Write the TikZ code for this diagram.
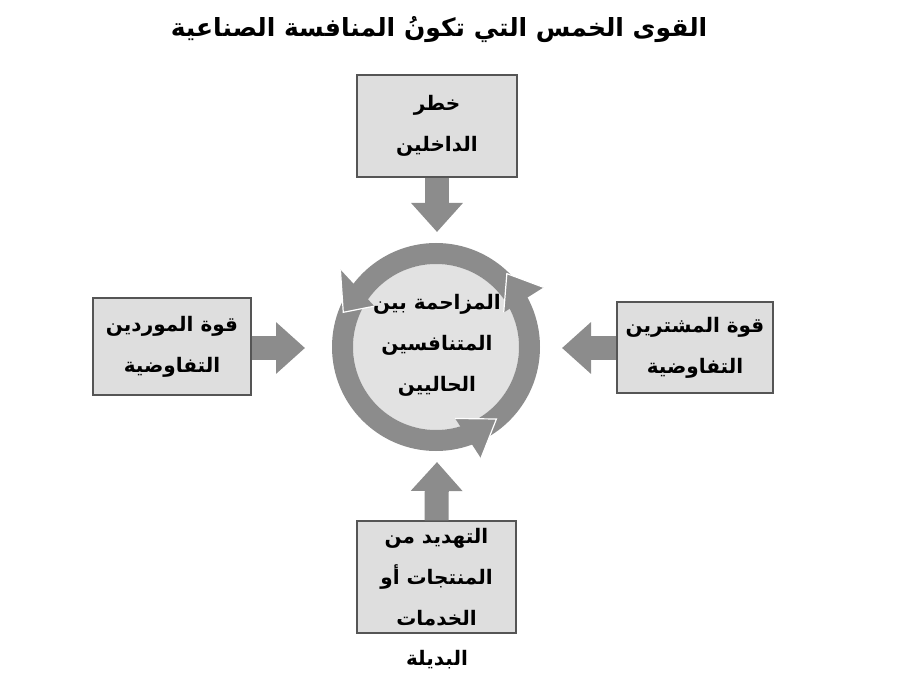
\documentclass[tikz,border=0pt]{standalone}
\usepackage{fontspec}
\usetikzlibrary{arrows.meta,calc}
\TeXXeTstate=1
\newfontfamily\arabicfont[Script=Arabic]{DejaVu Sans}
\newcommand{\ar}[1]{{\arabicfont\bfseries\beginR #1\endR}}
\definecolor{boxgray}{HTML}{DEDEDE}
\definecolor{edgegray}{HTML}{555555}
\definecolor{arrowgray}{HTML}{8C8C8C}
\definecolor{discgray}{HTML}{E2E2E2}
\tikzset{
  forcebox/.style={draw=edgegray, fill=boxgray, line width=1.3pt, inner sep=0pt, align=center,
    font=\fontsize{20}{41}\selectfont},
  plaintext/.style={inner sep=0pt, align=center, font=\fontsize{20}{41}\selectfont},
  fatarrow/.style={draw=arrowgray, line width=24pt, -{Triangle[length=29pt,width=50pt]}},
  headfill/.style={fill=arrowgray},
  headedge/.style={draw=white, line width=1.2pt}
}
\begin{document}
\begin{tikzpicture}[x=1pt,y=1pt]
\useasboundingbox (0,0) rectangle (916,673);
% title
\node[inner sep=0pt, font=\fontsize{25}{30}\selectfont] (title) at (439,643) {\ar{القوى الخمس التي تكونُ المنافسة الصناعية}};
% boxes
\node[forcebox, minimum width=160pt, minimum height=102pt] (top) at (437,547) {\ar{خطر}\\\ar{الداخلين}};
\node[forcebox, minimum width=158pt, minimum height=97pt] (left) at (172,326.5) {\ar{قوة الموردين}\\\ar{التفاوضية}};
\node[forcebox, minimum width=156pt, minimum height=91pt] (right) at (695,325.5) {\ar{قوة المشترين}\\\ar{التفاوضية}};
\node[forcebox, minimum width=159pt, minimum height=112pt] (bottom) at (436.5,96) {\ar{التهديد من}\\\ar{المنتجات أو}\\\ar{الخدمات}};
\node[plaintext] (bottomlast) at (437,13) {\ar{البديلة}};
% arrow tips
\coordinate (ttip) at (437,441);
\coordinate (ltip) at (305,325);
\coordinate (rtip) at (562,325);
\coordinate (btip) at (437,211);
\draw[fatarrow] (top.south) -- (ttip);
\draw[fatarrow] (left.east |- ltip) -- (ltip);
\draw[fatarrow] (right.west |- rtip) -- (rtip);
\draw[fatarrow] (bottom.north) -- (btip);
% central cycle
\coordinate (C) at (436,326);
\fill[discgray] (C) circle (83pt);
\fill[arrowgray, even odd rule] (C) circle (104pt) (C) circle (83pt);
% head A (top right)
\fill[headfill] ($(C)+(29:123pt)$) coordinate (Ao) -- ($(C)+(46:102pt)$) coordinate (At) -- ($(C)+(27:76pt)$) coordinate (Ai) -- cycle;
\draw[headedge] (Ao) -- (At) -- (Ai);
% head B (left)
\fill[headfill] ($(C)+(141:123pt)$) coordinate (Bo) -- ($(C)+(159.5:99pt)$) coordinate (Bt) -- ($(C)+(146.5:74pt)$) coordinate (Bi) -- cycle;
\draw[headedge] (Bo) -- (Bt) -- (Bi);
% head C (bottom right)
\fill[headfill] ($(C)+(-68:120pt)$) coordinate (Co) -- ($(C)+(-50:94pt)$) coordinate (Ct) -- ($(C)+(-75:74pt)$) coordinate (Ci) -- cycle;
\draw[headedge] (Co) -- (Ct) -- (Ci);
\node[plaintext] (center) at (437,328) {\ar{المزاحمة بين}\\\ar{المتنافسين}\\\ar{الحاليين}};
\end{tikzpicture}
\end{document}
